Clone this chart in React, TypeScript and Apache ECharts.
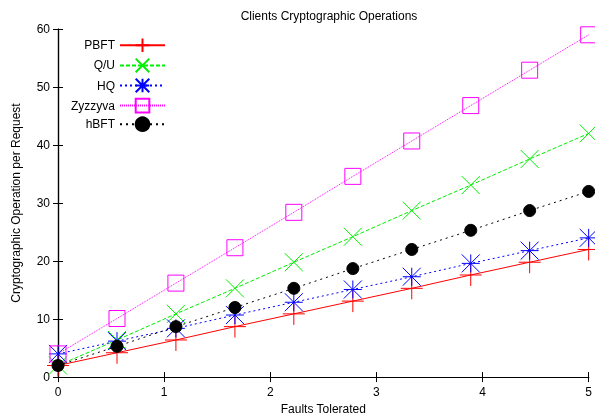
import React, { useEffect, useRef } from "react";
import * as echarts from "echarts";

const faults = [0, 0.556, 1.111, 1.667, 2.222, 2.778, 3.333, 3.889, 4.444, 5];
const pbft = [2, 4.2, 6.4, 8.7, 10.9, 13.1, 15.3, 17.6, 19.8, 22];
const qu = [2, 6.4, 10.9, 15.3, 19.8, 24.2, 28.7, 33.1, 37.6, 42];
const hq = [4, 6.2, 8.4, 10.7, 12.9, 15.1, 17.3, 19.6, 21.8, 24];
const zyzzyva = [4, 10.1, 16.2, 22.3, 28.4, 34.6, 40.7, 46.8, 52.9, 59];
const hbft = [2, 5.3, 8.7, 12, 15.3, 18.7, 22, 25.3, 28.7, 32];

const FONT = "Liberation Sans, Arial, sans-serif";

const PLUS = "path://M5 0 L5 10 M0 5 L10 5";
const CROSS = "path://M0 0 L10 10 M10 0 L0 10";
const STAR = "path://M5 0 L5 10 M0 5 L10 5 M0 0 L10 10 M10 0 L0 10";

function pairs(ys: number[]) {
  return ys.map((y, i) => [faults[i], y]);
}

export default function App() {
  const ref = useRef<HTMLDivElement>(null);
  useEffect(() => {
    document.body.style.margin = "0";
    document.body.style.overflow = "hidden";
    const chart = echarts.init(ref.current!, null, { renderer: "svg" });
    const mkSeries = (
      name: string,
      ys: number[],
      color: string,
      symbol: string,
      size: number,
      dash: any,
      fill: string
    ) => ({
      name,
      type: "line",
      data: pairs(ys),
      symbol,
      symbolSize: size,
      showAllSymbol: true,
      lineStyle: { color, width: 1, type: dash },
      itemStyle: { color: fill, borderColor: color, borderWidth: 1 },
      emphasis: { disabled: true },
    });
    const axisCommon = {
      axisLine: { show: true, lineStyle: { color: "#000", width: 1.2 } },
      axisTick: { show: true, inside: true, length: 5, lineStyle: { color: "#000" } },
      splitLine: { show: false },
    };
    chart.setOption({
      animation: false,
      title: {
        text: "Clients Cryptographic Operations",
        left: 324,
        textAlign: "center",
        top: 5,
        textStyle: { fontFamily: FONT, fontSize: 12, fontWeight: "normal", color: "#000" },
      },
      legend: {
        orient: "vertical",
        left: 66,
        top: 31,
        align: "right",
        itemWidth: 45,
        itemHeight: 17,
        itemGap: 1.5,
        textStyle: { fontFamily: FONT, fontSize: 12, color: "#000" },
        data: ["PBFT", "Q/U", "HQ", "Zyzzyva", "hBFT"],
      },
      grid: { left: 58, right: 5, top: 29, bottom: 41 },
      xAxis: [
        {
          type: "value",
          min: 0,
          max: 5,
          interval: 1,
          name: "Faults Tolerated",
          nameLocation: "middle",
          nameGap: 25,
          nameTextStyle: { fontFamily: FONT, fontSize: 12, color: "#000" },
          axisLabel: { fontFamily: FONT, fontSize: 12, color: "#000", margin: 9 },
          ...axisCommon,
        },
        {
          type: "value",
          position: "top",
          min: 0,
          max: 5,
          interval: 1,
          axisLabel: { show: false },
          ...axisCommon,
        },
      ],
      yAxis: [
        {
          type: "value",
          min: 0,
          max: 60,
          interval: 10,
          name: "Cryptographic Operation per Request",
          nameLocation: "middle",
          nameGap: 36,
          nameTextStyle: { fontFamily: FONT, fontSize: 12, color: "#000" },
          axisLabel: { fontFamily: FONT, fontSize: 12, color: "#000", margin: 8 },
          ...axisCommon,
        },
        {
          type: "value",
          position: "right",
          min: 0,
          max: 60,
          interval: 10,
          axisLabel: { show: false },
          ...axisCommon,
        },
      ],
      series: [
        mkSeries("PBFT", pbft, "#ff0000", PLUS, 22, "solid", "none"),
        mkSeries("Q/U", qu, "#00ee00", CROSS, 18, [4, 2], "none"),
        mkSeries("HQ", hq, "#0000ff", STAR, 18, [2, 3], "none"),
        mkSeries("Zyzzyva", zyzzyva, "#ff00ff", "rect", 16, [1, 1], "none"),
        mkSeries("hBFT", hbft, "#000000", "circle", 12, [2, 4], "#000000"),
      ],
    });
    return () => chart.dispose();
  }, []);
  return (
    <div
      ref={ref}
      style={{ width: 595, height: 420, position: "fixed", left: 0, top: 0 }}
    />
  );
}
